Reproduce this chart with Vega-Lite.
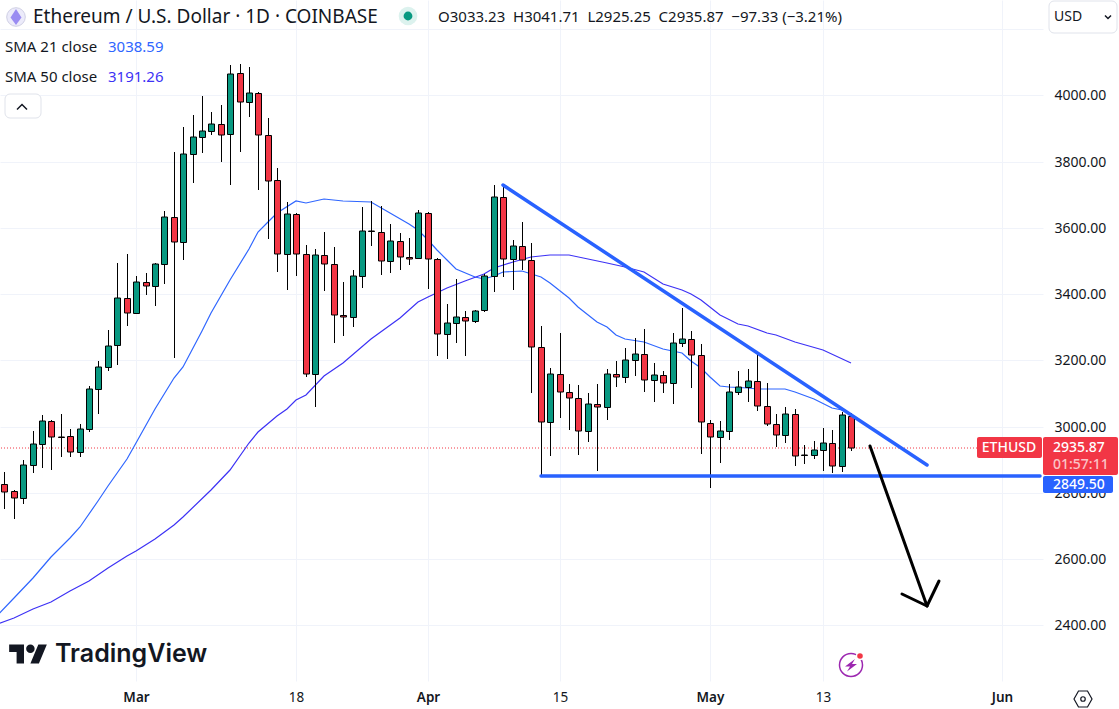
{
"$schema":"https://vega.github.io/schema/vega-lite/v6.json",
"width":1043,"height":681,"autosize":{"type":"none"},
"padding":{"left":0,"top":0,"right":76,"bottom":28},
"background":"#ffffff",
"config":{"view":{"stroke":null},"font":"Noto Sans"},
"datasets":{
"candles":[
{"d":"2024-02-16","o":2826,"h":2863,"l":2750,"c":2803},
{"d":"2024-02-17","o":2805,"h":2809,"l":2722,"c":2785},
{"d":"2024-02-18","o":2785,"h":2898,"l":2767,"c":2883},
{"d":"2024-02-19","o":2883,"h":2987,"l":2861,"c":2947},
{"d":"2024-02-20","o":2947,"h":3035,"l":2876,"c":3016},
{"d":"2024-02-21","o":3016,"h":3019,"l":2869,"c":2968},
{"d":"2024-02-22","o":2970,"h":3038,"l":2909,"c":2969},
{"d":"2024-02-23","o":2971,"h":2993,"l":2909,"c":2922},
{"d":"2024-02-24","o":2922,"h":3008,"l":2909,"c":2992},
{"d":"2024-02-25","o":2992,"h":3122,"l":2985,"c":3113},
{"d":"2024-02-26","o":3113,"h":3198,"l":3039,"c":3179},
{"d":"2024-02-27","o":3179,"h":3292,"l":3169,"c":3243},
{"d":"2024-02-28","o":3246,"h":3493,"l":3187,"c":3388},
{"d":"2024-02-29","o":3388,"h":3521,"l":3305,"c":3342},
{"d":"2024-03-01","o":3342,"h":3455,"l":3342,"c":3436},
{"d":"2024-03-02","o":3436,"h":3464,"l":3398,"c":3424},
{"d":"2024-03-03","o":3424,"h":3493,"l":3365,"c":3490},
{"d":"2024-03-04","o":3490,"h":3651,"l":3432,"c":3632},
{"d":"2024-03-05","o":3632,"h":3829,"l":3208,"c":3557},
{"d":"2024-03-06","o":3557,"h":3905,"l":3503,"c":3822},
{"d":"2024-03-07","o":3822,"h":3941,"l":3737,"c":3874},
{"d":"2024-03-08","o":3874,"h":3998,"l":3827,"c":3892},
{"d":"2024-03-09","o":3892,"h":3950,"l":3882,"c":3913},
{"d":"2024-03-10","o":3913,"h":3971,"l":3800,"c":3880},
{"d":"2024-03-11","o":3883,"h":4092,"l":3731,"c":4064},
{"d":"2024-03-12","o":4067,"h":4095,"l":3830,"c":3979},
{"d":"2024-03-13","o":3979,"h":4086,"l":3936,"c":4007},
{"d":"2024-03-14","o":4007,"h":4011,"l":3715,"c":3880},
{"d":"2024-03-15","o":3880,"h":3931,"l":3568,"c":3741},
{"d":"2024-03-16","o":3744,"h":3780,"l":3468,"c":3520},
{"d":"2024-03-17","o":3520,"h":3677,"l":3414,"c":3641},
{"d":"2024-03-18","o":3641,"h":3644,"l":3456,"c":3520},
{"d":"2024-03-19","o":3520,"h":3548,"l":3151,"c":3158},
{"d":"2024-03-20","o":3158,"h":3536,"l":3060,"c":3517},
{"d":"2024-03-21","o":3517,"h":3588,"l":3410,"c":3490},
{"d":"2024-03-22","o":3490,"h":3542,"l":3253,"c":3336},
{"d":"2024-03-23","o":3336,"h":3437,"l":3275,"c":3330},
{"d":"2024-03-24","o":3330,"h":3473,"l":3302,"c":3454},
{"d":"2024-03-25","o":3454,"h":3662,"l":3420,"c":3590},
{"d":"2024-03-26","o":3590,"h":3681,"l":3546,"c":3591},
{"d":"2024-03-27","o":3587,"h":3665,"l":3459,"c":3499},
{"d":"2024-03-28","o":3499,"h":3611,"l":3465,"c":3560},
{"d":"2024-03-29","o":3560,"h":3584,"l":3474,"c":3511},
{"d":"2024-03-30","o":3511,"h":3569,"l":3489,"c":3507},
{"d":"2024-03-31","o":3508,"h":3653,"l":3505,"c":3644},
{"d":"2024-04-01","o":3644,"h":3647,"l":3417,"c":3505},
{"d":"2024-04-02","o":3505,"h":3508,"l":3214,"c":3279},
{"d":"2024-04-03","o":3279,"h":3369,"l":3205,"c":3312},
{"d":"2024-04-04","o":3312,"h":3445,"l":3253,"c":3330},
{"d":"2024-04-05","o":3330,"h":3348,"l":3214,"c":3318},
{"d":"2024-04-06","o":3318,"h":3352,"l":3312,"c":3350},
{"d":"2024-04-07","o":3351,"h":3460,"l":3346,"c":3454},
{"d":"2024-04-08","o":3454,"h":3730,"l":3407,"c":3692},
{"d":"2024-04-09","o":3692,"h":3727,"l":3453,"c":3505},
{"d":"2024-04-10","o":3505,"h":3563,"l":3414,"c":3545},
{"d":"2024-04-11","o":3545,"h":3617,"l":3473,"c":3502},
{"d":"2024-04-12","o":3502,"h":3555,"l":3102,"c":3240},
{"d":"2024-04-13","o":3240,"h":3304,"l":2851,"c":3013},
{"d":"2024-04-14","o":3013,"h":3176,"l":2912,"c":3158},
{"d":"2024-04-15","o":3158,"h":3282,"l":3027,"c":3104},
{"d":"2024-04-16","o":3104,"h":3128,"l":2991,"c":3086},
{"d":"2024-04-17","o":3086,"h":3125,"l":2915,"c":2986},
{"d":"2024-04-18","o":2986,"h":3101,"l":2954,"c":3067},
{"d":"2024-04-19","o":3067,"h":3128,"l":2867,"c":3058},
{"d":"2024-04-20","o":3058,"h":3173,"l":3021,"c":3158},
{"d":"2024-04-21","o":3158,"h":3197,"l":3121,"c":3149},
{"d":"2024-04-22","o":3149,"h":3236,"l":3133,"c":3200},
{"d":"2024-04-23","o":3200,"h":3267,"l":3154,"c":3218},
{"d":"2024-04-24","o":3218,"h":3294,"l":3105,"c":3140},
{"d":"2024-04-25","o":3140,"h":3191,"l":3075,"c":3155},
{"d":"2024-04-26","o":3155,"h":3167,"l":3102,"c":3131},
{"d":"2024-04-27","o":3131,"h":3282,"l":3069,"c":3252},
{"d":"2024-04-28","o":3252,"h":3357,"l":3241,"c":3264},
{"d":"2024-04-29","o":3264,"h":3288,"l":3118,"c":3215},
{"d":"2024-04-30","o":3215,"h":3249,"l":2918,"c":3013},
{"d":"2024-05-01","o":3010,"h":3019,"l":2816,"c":2968},
{"d":"2024-05-02","o":2968,"h":3017,"l":2891,"c":2986},
{"d":"2024-05-03","o":2986,"h":3128,"l":2961,"c":3104},
{"d":"2024-05-04","o":3104,"h":3168,"l":3096,"c":3119},
{"d":"2024-05-05","o":3119,"h":3173,"l":3075,"c":3137},
{"d":"2024-05-06","o":3137,"h":3221,"l":3048,"c":3061},
{"d":"2024-05-07","o":3061,"h":3131,"l":3003,"c":3007},
{"d":"2024-05-08","o":3007,"h":3037,"l":2939,"c":2974},
{"d":"2024-05-09","o":2974,"h":3058,"l":2951,"c":3037},
{"d":"2024-05-10","o":3037,"h":3052,"l":2882,"c":2910},
{"d":"2024-05-11","o":2913,"h":2944,"l":2888,"c":2914},
{"d":"2024-05-12","o":2913,"h":2956,"l":2903,"c":2928},
{"d":"2024-05-13","o":2928,"h":2995,"l":2867,"c":2950},
{"d":"2024-05-14","o":2950,"h":2989,"l":2861,"c":2880},
{"d":"2024-05-15","o":2880,"h":3043,"l":2864,"c":3034},
{"d":"2024-05-16","o":3033.23,"h":3041.71,"l":2925.25,"c":2935.87}
],
"sma21":[
{"d":"2024-02-15","p":2422},{"d":"2024-02-17","p":2482},{"d":"2024-02-19","p":2543},{"d":"2024-02-21","p":2605},
{"d":"2024-02-23","p":2664},{"d":"2024-02-24","p":2697},{"d":"2024-02-26","p":2775},{"d":"2024-02-27","p":2821},
{"d":"2024-02-29","p":2902},{"d":"2024-03-01","p":2951},{"d":"2024-03-03","p":3053},{"d":"2024-03-05","p":3147},
{"d":"2024-03-06","p":3180},{"d":"2024-03-08","p":3289},{"d":"2024-03-09","p":3343},{"d":"2024-03-11","p":3443},
{"d":"2024-03-13","p":3536},{"d":"2024-03-14","p":3588},{"d":"2024-03-15","p":3618},{"d":"2024-03-16","p":3645},
{"d":"2024-03-18","p":3681},{"d":"2024-03-19","p":3675},{"d":"2024-03-21","p":3688},{"d":"2024-03-23","p":3680},
{"d":"2024-03-26","p":3678},{"d":"2024-03-28","p":3645},{"d":"2024-03-30","p":3612},{"d":"2024-03-31","p":3594},
{"d":"2024-04-01","p":3564},{"d":"2024-04-02","p":3533},{"d":"2024-04-03","p":3503},{"d":"2024-04-04","p":3476},
{"d":"2024-04-06","p":3452},{"d":"2024-04-07","p":3446},{"d":"2024-04-08","p":3455},{"d":"2024-04-09","p":3468},
{"d":"2024-04-11","p":3470},{"d":"2024-04-13","p":3452},{"d":"2024-04-14","p":3434},{"d":"2024-04-16","p":3388},
{"d":"2024-04-17","p":3361},{"d":"2024-04-19","p":3317},{"d":"2024-04-20","p":3301},{"d":"2024-04-21","p":3277},
{"d":"2024-04-22","p":3265},{"d":"2024-04-24","p":3256},{"d":"2024-04-26","p":3234},{"d":"2024-04-28","p":3222},
{"d":"2024-04-29","p":3198},{"d":"2024-04-30","p":3177},{"d":"2024-05-01","p":3150},{"d":"2024-05-02","p":3123},
{"d":"2024-05-03","p":3120},{"d":"2024-05-05","p":3117},{"d":"2024-05-06","p":3114},{"d":"2024-05-09","p":3113},
{"d":"2024-05-10","p":3105},{"d":"2024-05-12","p":3083},{"d":"2024-05-14","p":3056},{"d":"2024-05-15","p":3050},
{"d":"2024-05-16","p":3038.59}
],
"sma50":[
{"d":"2024-02-15","p":2401},{"d":"2024-02-17","p":2421},{"d":"2024-02-19","p":2448},{"d":"2024-02-21","p":2469},
{"d":"2024-02-23","p":2504},{"d":"2024-02-25","p":2534},{"d":"2024-02-27","p":2573},{"d":"2024-02-29","p":2609},
{"d":"2024-03-01","p":2624},{"d":"2024-03-03","p":2661},{"d":"2024-03-05","p":2703},{"d":"2024-03-06","p":2727},
{"d":"2024-03-09","p":2809},{"d":"2024-03-11","p":2869},{"d":"2024-03-13","p":2951},{"d":"2024-03-14","p":2984},
{"d":"2024-03-16","p":3032},{"d":"2024-03-17","p":3053},{"d":"2024-03-18","p":3080},{"d":"2024-03-19","p":3095},
{"d":"2024-03-21","p":3153},{"d":"2024-03-23","p":3192},{"d":"2024-03-26","p":3265},{"d":"2024-03-29","p":3328},
{"d":"2024-03-31","p":3376},{"d":"2024-04-01","p":3391},{"d":"2024-04-03","p":3419},{"d":"2024-04-05","p":3440},
{"d":"2024-04-07","p":3461},{"d":"2024-04-08","p":3479},{"d":"2024-04-10","p":3497},{"d":"2024-04-12","p":3512},
{"d":"2024-04-14","p":3518},{"d":"2024-04-16","p":3518},{"d":"2024-04-18","p":3505},{"d":"2024-04-20","p":3494},
{"d":"2024-04-22","p":3482},{"d":"2024-04-24","p":3467},{"d":"2024-04-26","p":3432},{"d":"2024-04-28","p":3413},
{"d":"2024-04-29","p":3401},{"d":"2024-04-30","p":3382},{"d":"2024-05-02","p":3337},{"d":"2024-05-04","p":3310},
{"d":"2024-05-05","p":3304},{"d":"2024-05-07","p":3283},{"d":"2024-05-08","p":3277},{"d":"2024-05-10","p":3256},
{"d":"2024-05-13","p":3231},{"d":"2024-05-16","p":3191.26}
]
},
"encoding":{
"x":{"field":"d","type":"temporal","title":null,
 "scale":{"type":"utc","round":true,"padding":0,"domain":[{"year":2024,"month":2,"date":15,"hours":12,"minutes":47,"utc":true},{"year":2024,"month":6,"date":5,"hours":8,"minutes":53,"utc":true}]},
 "axis":{"values":[{"year":2024,"month":3,"date":1,"utc":true},{"year":2024,"month":3,"date":18,"utc":true},{"year":2024,"month":4,"date":1,"utc":true},{"year":2024,"month":4,"date":15,"utc":true},{"year":2024,"month":5,"date":1,"utc":true},{"year":2024,"month":5,"date":13,"utc":true},{"year":2024,"month":6,"date":1,"utc":true}],
 "labelExpr":"utcdate(datum.value)===1 ? utcFormat(datum.value,'%b') : utcFormat(datum.value,'%-d')",
 "labelFontWeight":{"condition":{"test":"utcdate(datum.value)===1","value":600},"value":400},
 "labelFont":"Noto Sans","labelFontSize":13.5,"labelColor":"#131722","labelPadding":9,"labelOverlap":false,"labelFlush":false,"labelBound":false,
 "domain":false,"ticks":false,"grid":true,"gridColor":"#f0f3fa","gridWidth":1}},
"y":{"field":"p","type":"quantitative","title":null,
 "scale":{"domain":[2231.8,4288.4],"nice":false,"zero":false,"round":true},
 "axis":{"orient":"right","values":[2400,2600,2800,3000,3200,3400,3600,3800,4000,4200],"format":".2f",
 "labelExpr":"datum.value===4200 ? '' : datum.label",
 "labelFont":"Noto Sans","labelFontSize":14,"labelColor":"#131722","labelPadding":11,"labelOverlap":false,"labelBound":false,"labelFlush":false,
 "domain":false,"ticks":false,"grid":true,"gridColor":"#f0f3fa","gridWidth":1}}
},
"layer":[
{"data":{"values":[{"d":"2024-02-15","p":2935.87},{"d":"2024-06-05","p":2935.87}]},
 "mark":{"type":"line","color":"#f23645","strokeWidth":1,"strokeDash":[1,2],"clip":true}},
{"data":{"name":"sma21"},"mark":{"type":"line","color":"#2f66ff","strokeWidth":1.2,"clip":true}},
{"data":{"name":"sma50"},"mark":{"type":"line","color":"#3d32f5","strokeWidth":1.2,"clip":true}},
{"data":{"name":"candles"},"mark":{"type":"rule","color":"#000000","strokeWidth":1,"xOffset":0.5},
 "encoding":{"y":{"field":"l","type":"quantitative","title":null,"scale":{"domain":[2231.8,4288.4],"nice":false,"zero":false,"round":true},
 "axis":{"orient":"right","values":[2400,2600,2800,3000,3200,3400,3600,3800,4000,4200],"format":".2f",
 "labelExpr":"datum.value===4200 ? '' : datum.label",
 "labelFont":"Noto Sans","labelFontSize":14,"labelColor":"#131722","labelPadding":11,"labelOverlap":false,"labelBound":false,"labelFlush":false,
 "domain":false,"ticks":false,"grid":true,"gridColor":"#f0f3fa","gridWidth":1}},"y2":{"field":"h"}}},
{"data":{"name":"candles"},"mark":{"type":"bar","size":6,"stroke":"#000000","strokeWidth":1,"xOffset":0.5,"yOffset":0.5},
 "encoding":{"y":{"field":"o","type":"quantitative","title":null,"scale":{"domain":[2231.8,4288.4],"nice":false,"zero":false,"round":true},
 "axis":{"orient":"right","values":[2400,2600,2800,3000,3200,3400,3600,3800,4000,4200],"format":".2f",
 "labelExpr":"datum.value===4200 ? '' : datum.label",
 "labelFont":"Noto Sans","labelFontSize":14,"labelColor":"#131722","labelPadding":11,"labelOverlap":false,"labelBound":false,"labelFlush":false,
 "domain":false,"ticks":false,"grid":true,"gridColor":"#f0f3fa","gridWidth":1}},"y2":{"field":"c"},
 "color":{"condition":{"test":"datum.c>=datum.o","value":"#089981"},"value":"#f23645"}}},
{"data":{"values":[{"d":"2024-04-09","p":3730,"s":"fall"},{"d":"2024-05-24","p":2884,"s":"fall"},{"d":"2024-04-13","p":2849.5,"s":"base"},{"d":"2024-06-05","p":2849.5,"s":"base"}]},
 "mark":{"type":"line","color":"#2962ff","strokeWidth":3.5,"strokeCap":"round"},"encoding":{"detail":{"field":"s"}}},
{"data":{"values":[{"d":"2024-05-18","p":2942,"s":"shaft"},{"d":"2024-05-24","p":2458,"s":"shaft"},{"d":"2024-05-21T08:00:00Z","p":2495,"s":"head"},{"d":"2024-05-24","p":2458,"s":"head"},{"d":"2024-05-25T07:00:00Z","p":2534,"s":"head"}]},
 "mark":{"type":"line","color":"#000000","strokeWidth":3,"strokeCap":"round","strokeJoin":"round"},"encoding":{"detail":{"field":"s"}}},
{"data":{"values":[{"d":"2024-05-29T08:40:00Z","d2":"2024-06-05T05:30:00Z","p":2969.6,"p2":2906},{"d":"2024-06-05T08:53:00Z","d2":"2024-06-13T08:00:00Z","p":2969.6,"p2":2854}]},
 "mark":{"type":"rect","color":"#f23645","cornerRadius":2},"encoding":{"x2":{"field":"d2"},"y2":{"field":"p2"}}},
{"data":{"values":[{"d":"2024-06-05T08:53:00Z","d2":"2024-06-12T18:40:00Z","p":2851,"p2":2798.6}]},
 "mark":{"type":"rect","color":"#2962ff","cornerRadius":2},"encoding":{"x2":{"field":"d2"},"y2":{"field":"p2"}}},
{"data":{"values":[{"d":"2024-06-05T23:20:00Z","d2":"2024-06-13T06:30:00Z","p":4284,"p2":4189.6},{"d":"2024-02-16T02:00:00Z","d2":"2024-02-19T20:40:00Z","p":4003.6,"p2":3931}]},
 "mark":{"type":"rect","fill":"#ffffff","stroke":"#e0e3eb","strokeWidth":1,"cornerRadius":5},"encoding":{"x2":{"field":"d2"},"y2":{"field":"p2"}}},
{"data":{"values":[{"d":"2024-06-01T18:00:00Z","p":2935.87,"t":"ETHUSD"}]},
 "mark":{"type":"text","align":"center","baseline":"middle","color":"#ffffff","font":"Noto Sans","fontSize":14,"fontWeight":500},"encoding":{"text":{"field":"t"}}},
{"data":{"values":[{"d":"2024-06-06T10:00:00Z","p":2935.87,"t":"2935.87"},{"d":"2024-06-06T10:00:00Z","p":2825,"t":"2849.50"}]},
 "mark":{"type":"text","align":"left","baseline":"middle","color":"#ffffff","font":"Noto Sans","fontSize":14,"fontWeight":500},"encoding":{"text":{"field":"t"}}},
{"data":{"values":[{"d":"2024-06-06T10:00:00Z","p":2884,"t":"01:57:11"}]},
 "mark":{"type":"text","align":"left","baseline":"middle","color":"#ffffff","opacity":0.7,"font":"Noto Sans","fontSize":14,"fontWeight":500},"encoding":{"text":{"field":"t"}}},
{"data":{"values":[{"d":"2024-06-06T14:00:00Z","p":4237,"t":"USD"}]},
 "mark":{"type":"text","align":"left","baseline":"middle","color":"#131722","font":"Noto Sans","fontSize":14},"encoding":{"text":{"field":"t"}}},
{"data":{"values":[{"d":"2024-02-19T01:00:00Z","p":4237,"t":"Ethereum / U.S. Dollar · 1D · COINBASE"}]},
 "mark":{"type":"text","align":"left","baseline":"middle","color":"#131722","font":"Noto Sans","fontSize":19},"encoding":{"text":{"field":"t"}}},
{"data":{"values":[{"d":"2024-04-02T02:00:00Z","p":4237,"t":"O3033.23\u00a0\u00a0H3041.71\u00a0\u00a0L2925.25\u00a0\u00a0C2935.87\u00a0\u00a0−97.33 (−3.21%)"}]},
 "mark":{"type":"text","align":"left","baseline":"middle","color":"#131722","font":"Noto Sans","fontSize":15},"encoding":{"text":{"field":"t"}}},
{"data":{"values":[{"d":"2024-02-16T01:30:00Z","p":4146,"t":"SMA 21 close"},{"d":"2024-02-16T01:30:00Z","p":4056,"t":"SMA 50 close"}]},
 "mark":{"type":"text","align":"left","baseline":"middle","color":"#131722","font":"Noto Sans","fontSize":15},"encoding":{"text":{"field":"t"}}},
{"data":{"values":[{"d":"2024-02-27","p":4146,"t":"3038.59"}]},
 "mark":{"type":"text","align":"left","baseline":"middle","color":"#2f66ff","font":"Noto Sans","fontSize":15},"encoding":{"text":{"field":"t"}}},
{"data":{"values":[{"d":"2024-02-27","p":4056,"t":"3191.26"}]},
 "mark":{"type":"text","align":"left","baseline":"middle","color":"#3d32f5","font":"Noto Sans","fontSize":15},"encoding":{"text":{"field":"t"}}},
{"data":{"values":[{"d":"2024-02-21T09:00:00Z","p":2314,"t":"TradingView"}]},
 "mark":{"type":"text","align":"left","baseline":"middle","color":"#131722","font":"Inter","fontSize":25,"fontWeight":600},"encoding":{"text":{"field":"t"}}},
{"data":{"values":[{"d":"2024-02-18T12:00:00Z","p":2314}]},
 "mark":{"type":"point","filled":true,"color":"#131722","opacity":1,"size":4,"shape":"M-4 9.5H-11.4V-2.1H-18.85V-9.5H-4ZM10.9 9.5H2.4L10.35 -9.5H18.85ZM-1.85 -5.3a4.25 4.25 0 1 0 8.5 0a4.25 4.25 0 1 0 -8.5 0Z"}},
{"data":{"values":[{"d":"2024-02-17T05:30:00Z","p":4236}]},
 "mark":{"type":"point","filled":true,"fill":"#ecebfa","stroke":"#cfcfe4","strokeWidth":1,"opacity":1,"size":346,"shape":"circle"}},
{"data":{"values":[{"d":"2024-02-17T05:30:00Z","p":4236}]},
 "mark":{"type":"point","filled":true,"color":"#9a8cf2","opacity":1,"size":4,"shape":"M0 -8L5.5 0.5L0 8L-5.5 0.5Z"}},
{"data":{"values":[{"d":"2024-03-29T21:30:00Z","p":4240}]},
 "mark":{"type":"point","filled":true,"color":"#dcf2ee","opacity":1,"size":346,"shape":"circle"}},
{"data":{"values":[{"d":"2024-03-29T21:30:00Z","p":4240}]},
 "mark":{"type":"point","filled":true,"color":"#089981","opacity":1,"size":78,"shape":"circle"}},
{"data":{"values":[{"d":"2024-02-17T21:00:00Z","p":3965}]},
 "mark":{"type":"point","filled":false,"stroke":"#131722","strokeWidth":1.5,"opacity":1,"size":4,"shape":"M-5 2.5L0 -2.5L5 2.5"}},
{"data":{"values":[{"d":"2024-06-12T07:00:00Z","p":4237}]},
 "mark":{"type":"point","filled":false,"stroke":"#131722","strokeWidth":1.5,"opacity":1,"size":4,"shape":"M-3 -1.5L0 1.5L3 -1.5"}},
{"data":{"values":[{"d":"2024-05-16","p":2281}]},
 "mark":{"type":"point","filled":false,"stroke":"#9c27b0","strokeWidth":1.5,"opacity":1,"size":530,"shape":"circle"}},
{"data":{"values":[{"d":"2024-05-16","p":2281}]},
 "mark":{"type":"point","filled":true,"color":"#9c27b0","opacity":1,"size":4,"shape":"M4 -6L-6 1.5H-1L-4 6.5L6 -1H1Z"}},
{"data":{"values":[{"d":"2024-05-16T22:00:00Z","p":2308}]},
 "mark":{"type":"point","filled":true,"fill":"#f23645","stroke":"#ffffff","strokeWidth":1.5,"opacity":1,"size":50,"shape":"circle"}},
{"data":{"values":[{"d":"2024-06-09T15:36:00Z","p":2176.5}]},
 "mark":{"type":"point","filled":false,"stroke":"#131722","strokeWidth":1.2,"opacity":1,"size":4,"shape":"M-9 0L-4.5 -8L4.5 -8L9 0L4.5 8L-4.5 8Z"}},
{"data":{"values":[{"d":"2024-06-09T15:36:00Z","p":2176.5}]},
 "mark":{"type":"point","filled":false,"stroke":"#131722","strokeWidth":1.2,"opacity":1,"size":20,"shape":"circle"}}
]
}
